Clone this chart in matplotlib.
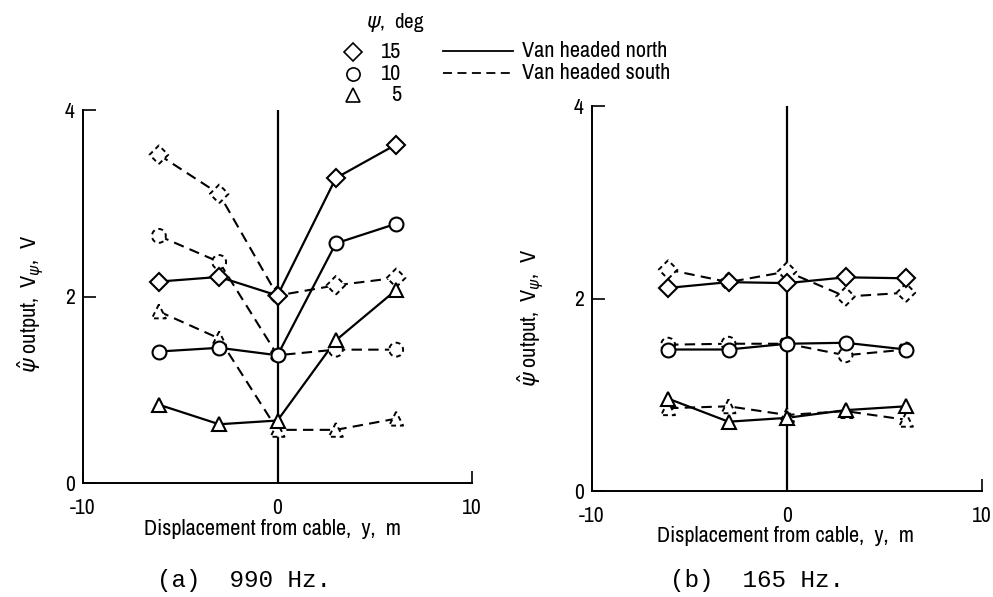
import numpy as np
import matplotlib
matplotlib.use('Agg')
import matplotlib.pyplot as plt
from matplotlib.lines import Line2D
from matplotlib import font_manager

plt.rcParams['axes.unicode_minus'] = False
names = sorted({f.name for f in font_manager.fontManager.ttflist})
narrow = [n for n in names if 'Narrow' in n or 'Condensed' in n]
plt.rcParams['font.family'] = narrow[:1] + ['DejaVu Sans']

# displacement from cable, m
y_pos = [-6.1, -3.0, 0.0, 3.0, 6.1]
psi_deg = [15, 10, 5]

# (a) 990 Hz
a_north = {15: [2.16, 2.21, 2.01, 3.27, 3.63],
           10: [1.41, 1.45, 1.37, 2.57, 2.78],
           5: [0.84, 0.63, 0.67, 1.53, 2.07]}
a_south = {15: [3.52, 3.10, 2.01, 2.12, 2.20],
           10: [2.65, 2.37, 1.37, 1.43, 1.43],
           5: [1.84, 1.55, 0.57, 0.57, 0.69]}

# (b) 165 Hz
b_north = {15: [2.11, 2.17, 2.16, 2.22, 2.21],
           10: [1.47, 1.47, 1.53, 1.54, 1.47],
           5: [0.96, 0.72, 0.76, 0.84, 0.88]}
b_south = {15: [2.30, 2.17, 2.28, 2.02, 2.06],
           10: [1.52, 1.53, 1.53, 1.41, 1.47],
           5: [0.86, 0.88, 0.79, 0.83, 0.74]}

markers = {15: 'D', 10: 'o', 5: '^'}
msize = {15: 9.5, 10: 10, 5: 10}
dash = (0, (5, 3))

W, H = 993, 597
fig = plt.figure(figsize=(W / 100, H / 100), dpi=100)


def px(x, y):
    return x / W, 1 - y / H


def draw_panel(rect, north, south, ylab_xy, xlab_xy):
    ax = fig.add_axes(rect)
    ax.set_xlim(-10, 10)
    ax.set_ylim(0, 4)
    ax.spines['top'].set_visible(False)
    ax.spines['right'].set_visible(False)
    for s in ('left', 'bottom'):
        ax.spines[s].set_linewidth(1.4)
    ax.set_xticks([-10, 0, 10])
    ax.set_yticks([0, 2, 4])
    ax.tick_params(direction='in', length=9, width=1.2, labelsize=15.5)
    ax.tick_params(axis='x', pad=11)
    ax.tick_params(axis='y', pad=6)
    ax.axvline(0, color='black', lw=1.6, zorder=1)
    for p in psi_deg:
        ax.plot(y_pos, south[p], color='black', lw=1.5, ls=dash, zorder=2)
        ax.plot(y_pos, north[p], color='black', lw=1.6, zorder=2)
    for p in psi_deg:
        ax.scatter(y_pos, south[p], s=msize[p] ** 2, marker=markers[p],
                   facecolor='white', edgecolor='black', linewidths=1.4,
                   linestyles=(0, (2.5, 2)), zorder=3)
    for p in psi_deg:
        ax.plot(y_pos, north[p], ls='none', marker=markers[p], ms=msize[p],
                mfc='white', mec='black', mew=1.5, zorder=4)
    ax.set_ylabel(r'$\hat{\psi}$ output,  V$_{\psi}$,  V', fontsize=16)
    ax.yaxis.set_label_coords(*ylab_xy)
    ax.set_xlabel('Displacement from cable,  y,  m', fontsize=16)
    ax.xaxis.set_label_coords(*xlab_xy)
    return ax


draw_panel([83 / W, 1 - 483 / H, 389 / W, 373 / H], a_north, a_south,
           (-0.095, 0.48), (0.488, -0.097))
draw_panel([592 / W, 1 - 491 / H, 390 / W, 385 / H], b_north, b_south,
           (-0.117, 0.45), (0.497, -0.09))

# captions
fig.text(*px(244, 581), '(a)  990 Hz.', family='Liberation Mono', fontsize=17.5,
         ha='center', va='center')
fig.text(*px(757, 581), '(b)  165 Hz.', family='Liberation Mono', fontsize=17.5,
         ha='center', va='center')

# legend
fig.text(*px(366, 22), r'$\psi$,  deg', fontsize=15, ha='left', va='center')
leg_y = {15: 52, 10: 74, 5: 95}
for p in psi_deg:
    fx, fy = px(353, leg_y[p])
    fig.add_artist(Line2D([fx], [fy], marker=markers[p], ms=msize[p] * 0.95,
                          mfc='white', mec='black', mew=1.2, ls='none'))
    fig.text(*px(401, leg_y[p]), str(p), fontsize=16, ha='right', va='center')
for yy, ls, lab in [(51, '-', 'Van headed north'), (73, dash, 'Van headed south')]:
    x0, y0 = px(443, yy)
    x1, _ = px(513, yy)
    fig.add_artist(Line2D([x0, x1], [y0, y0], color='black', lw=1.3, ls=ls))
    fig.text(*px(522, yy), lab, fontsize=16, ha='left', va='center')

fig.savefig('out.png', dpi=100)
